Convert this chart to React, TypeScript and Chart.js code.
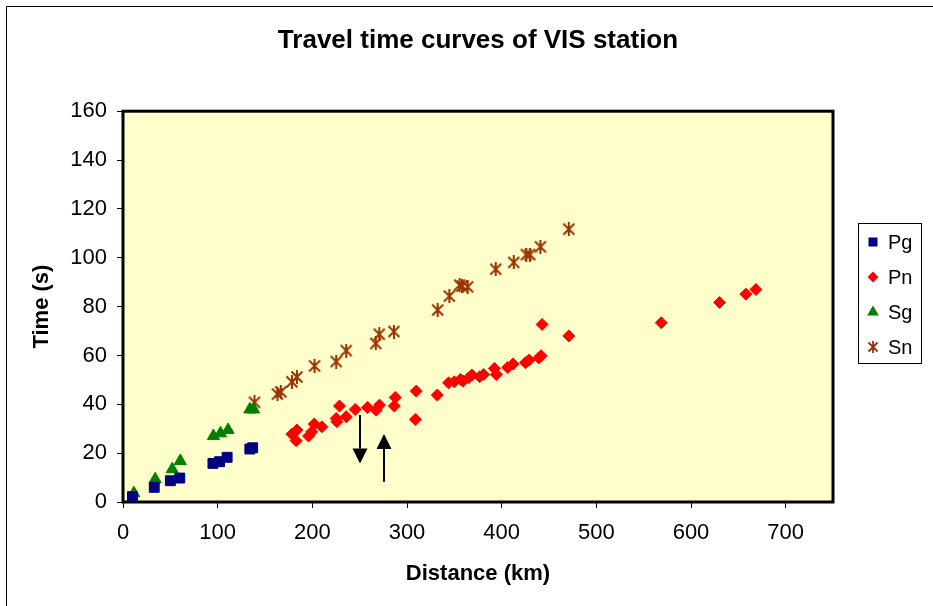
import { useEffect, useRef } from 'react';
import { Chart, registerables } from 'chart.js';

Chart.register(...registerables);

const FONT = "'Liberation Sans', Arial, Helvetica, sans-serif";

const chartTitle = 'Travel time curves of VIS station';
const xAxisTitle = 'Distance (km)';
const yAxisTitle = 'Time (s)';
const xTickValues = [0, 100, 200, 300, 400, 500, 600, 700];
const xRange = [0, 750];
const yRange = [0, 160];
const yStep = 20;

const seriesNames = ['Pg', 'Pn', 'Sg', 'Sn'];
const seriesColors = ['#000080', '#FF0000', '#008000', '#993300'];

const pgDistance = [10, 33, 50, 60, 95, 102, 110, 134, 137];
const pgTime = [2.2, 6, 8.7, 9.8, 15.8, 16.5, 18.3, 21.7, 22.2];

const pnDistance = [178.4, 183.7, 182.9, 196, 199.5, 202, 210.1, 228.7, 225.2, 226, 235.8, 245.3, 258.3, 267.5, 271, 287.6, 286.6, 309.8, 308.8, 332, 344, 350, 356.4, 359.2, 365.2, 368.7, 376.8, 381, 392.3, 394.4, 406.4, 412.1, 425.1, 429, 439.2, 441.7, 442.7, 470.9, 568.6, 630.2, 658, 668.6];
const pnTime = [27.8, 29.5, 25.1, 27, 28.8, 31.9, 30.8, 39.3, 34.2, 32.9, 34.9, 37.9, 38.7, 37.6, 39.7, 42.8, 39.3, 45.4, 33.8, 43.8, 48.8, 49.2, 50.2, 49.5, 50.9, 52, 51.3, 52.2, 54.7, 52.2, 55.1, 56.5, 57, 58.1, 59, 59.9, 72.7, 68, 73.4, 81.7, 85.1, 87];

const sgDistance = [11.5, 34, 52, 60.5, 95.5, 103, 111, 134, 138];
const sgTime = [3.6, 9.3, 13.4, 16.8, 27, 28.1, 29.5, 37.9, 37.9];

const snDistance = [138.9, 163.2, 166.7, 178.4, 183.7, 202.3, 225.2, 235.8, 267, 270.7, 286.2, 332.4, 344.7, 355.6, 358.1, 364.1, 393.7, 412.7, 426.1, 429.7, 440.9, 470.9];
const snTime = [40.8, 44.2, 45.1, 49.2, 51.2, 55.7, 57.5, 62, 64.9, 68.7, 69.8, 78.6, 84.3, 88.8, 88.4, 88.1, 95.3, 98.1, 101.3, 101.3, 104.5, 111.7];

// annotation arrows (data units): x position, start time, end (tip) time
const arrowDistance = [250, 275.2];
const arrowFromTime = [35.6, 8.3];
const arrowToTime = [15.8, 27.8];

function pairs(xs: number[], ys: number[]) {
  return xs.map((x, i) => ({ x, y: ys[i] }));
}

function makeAsterisk(color: string, size: number, lw: number) {
  const c = document.createElement('canvas');
  c.width = size;
  c.height = size;
  const g = c.getContext('2d')!;
  g.strokeStyle = color;
  g.lineWidth = lw;
  g.lineCap = 'butt';
  const s = size;
  const m = s / 2;
  const p = 1.5;
  g.beginPath();
  g.moveTo(p, p);
  g.lineTo(s - p, s - p);
  g.moveTo(s - p, p);
  g.lineTo(p, s - p);
  g.moveTo(m, 0);
  g.lineTo(m, s);
  g.stroke();
  return c;
}

function drawMarker(ctx: CanvasRenderingContext2D, kind: number, x: number, y: number, color: string, star: HTMLCanvasElement) {
  ctx.save();
  ctx.fillStyle = color;
  ctx.beginPath();
  if (kind === 0) {
    const h = 4.5;
    ctx.rect(x - h, y - h, 2 * h, 2 * h);
    ctx.fill();
  } else if (kind === 1) {
    const r = 5.5;
    ctx.moveTo(x - r, y);
    ctx.lineTo(x, y - r);
    ctx.lineTo(x + r, y);
    ctx.lineTo(x, y + r);
    ctx.closePath();
    ctx.fill();
  } else if (kind === 2) {
    const r = 6.5;
    ctx.moveTo(x, y - r);
    ctx.lineTo(x + r * 0.9, y + r * 0.55);
    ctx.lineTo(x - r * 0.9, y + r * 0.55);
    ctx.closePath();
    ctx.fill();
  } else {
    ctx.drawImage(star, x - star.width / 2, y - star.height / 2);
  }
  ctx.restore();
}

export default function App() {
  const ref = useRef<HTMLCanvasElement>(null);

  useEffect(() => {
    const canvas = ref.current;
    if (!canvas) return;
    const star = makeAsterisk(seriesColors[3], 14, 2);
    const legendStar = makeAsterisk(seriesColors[3], 12, 1.8);

    const decor = {
      id: 'decor',
      beforeDraw(chart: any) {
        const { ctx, chartArea: a, width, height } = chart;
        ctx.save();
        ctx.fillStyle = '#FFFFFF';
        ctx.fillRect(0, 0, width, height);
        ctx.fillStyle = '#FFFFCC';
        ctx.fillRect(a.left, a.top, a.right - a.left, a.bottom - a.top);
        // outer frame
        ctx.strokeStyle = '#000';
        ctx.lineWidth = 1;
        ctx.beginPath();
        ctx.moveTo(6.5, height + 5);
        ctx.lineTo(6.5, 6.5);
        ctx.lineTo(width + 5, 6.5);
        ctx.stroke();
        ctx.restore();
      },
      beforeDatasetsDraw(chart: any) {
        const { ctx, chartArea: a } = chart;
        ctx.save();
        ctx.strokeStyle = '#000';
        ctx.lineWidth = 3;
        ctx.strokeRect(a.left, a.top, a.right - a.left, a.bottom - a.top);
        ctx.restore();
      },
      afterDatasetsDraw(chart: any) {
        const { ctx } = chart;
        const xs = chart.scales.x;
        const ys = chart.scales.y;
        ctx.save();
        ctx.strokeStyle = '#000';
        ctx.fillStyle = '#000';
        ctx.lineWidth = 2;
        arrowDistance.forEach((d, i) => {
          const x = Math.round(xs.getPixelForValue(d));
          const y0 = ys.getPixelForValue(arrowFromTime[i]);
          const y1 = ys.getPixelForValue(arrowToTime[i]);
          const dir = y1 > y0 ? 1 : -1;
          const headLen = 15;
          const headHalf = 7.5;
          ctx.beginPath();
          ctx.moveTo(x, y0);
          ctx.lineTo(x, y1 - dir * headLen);
          ctx.stroke();
          ctx.beginPath();
          ctx.moveTo(x, y1);
          ctx.lineTo(x - headHalf, y1 - dir * headLen);
          ctx.lineTo(x + headHalf, y1 - dir * headLen);
          ctx.closePath();
          ctx.fill();
        });
        ctx.restore();
      },
      afterDraw(chart: any) {
        const { ctx, chartArea: a } = chart;
        const left = a.right + 25;
        const top = 223;
        const w = 63;
        const h = 140;
        ctx.save();
        ctx.fillStyle = '#FFFFFF';
        ctx.fillRect(left, top, w, h);
        ctx.strokeStyle = '#000';
        ctx.lineWidth = 1;
        ctx.strokeRect(left + 0.5, top + 0.5, w, h);
        ctx.font = `20px ${FONT}`;
        ctx.textBaseline = 'middle';
        ctx.textAlign = 'left';
        seriesNames.forEach((name, i) => {
          const y = top + 19 + i * 35;
          drawMarker(ctx, i, left + 15, y, seriesColors[i], legendStar);
          ctx.fillStyle = '#000';
          ctx.fillText(name, left + 30, y + 1);
        });
        ctx.restore();
      },
    };

    const chart = new Chart(canvas, {
      type: 'scatter',
      data: {
        datasets: [
          {
            label: seriesNames[0],
            data: pairs(pgDistance, pgTime),
            pointStyle: 'rect',
            pointRadius: 7,
            backgroundColor: seriesColors[0],
            borderColor: seriesColors[0],
            borderWidth: 1,
          },
          {
            label: seriesNames[1],
            data: pairs(pnDistance, pnTime),
            pointStyle: 'rectRot',
            pointRadius: 6,
            backgroundColor: seriesColors[1],
            borderColor: seriesColors[1],
            borderWidth: 1,
          },
          {
            label: seriesNames[2],
            data: pairs(sgDistance, sgTime),
            pointStyle: 'triangle',
            pointRadius: 7,
            backgroundColor: seriesColors[2],
            borderColor: seriesColors[2],
            borderWidth: 1,
          },
          {
            label: seriesNames[3],
            data: pairs(snDistance, snTime),
            pointStyle: star as any,
            pointRadius: 7,
            backgroundColor: seriesColors[3],
            borderColor: seriesColors[3],
          },
        ],
      },
      options: {
        animation: false,
        responsive: false,
        devicePixelRatio: 1,
        layout: { padding: { left: 0, right: 100, top: 0, bottom: 0 } },
        plugins: {
          legend: { display: false },
          tooltip: { enabled: false },
          title: {
            display: true,
            text: chartTitle,
            fullSize: false,
            color: '#000',
            font: { family: FONT, size: 26, weight: 'bold' },
            padding: { top: 25, bottom: 55 },
          },
        },
        scales: {
          x: {
            type: 'linear',
            min: xRange[0],
            max: xRange[1],
            afterBuildTicks: (s: any) => {
              s.ticks = xTickValues.map((v) => ({ value: v }));
            },
            afterFit: (s: any) => {
              s.height = 104;
            },
            border: { display: false },
            grid: {
              drawOnChartArea: false,
              drawTicks: true,
              tickLength: 6,
              color: '#000',
              lineWidth: 1,
            },
            ticks: {
              color: '#000',
              font: { family: FONT, size: 22 },
              padding: 12,
              maxRotation: 0,
            },
            title: {
              display: true,
              text: xAxisTitle,
              color: '#000',
              font: { family: FONT, size: 22, weight: 'bold' },
              padding: { top: 0, bottom: 19 },
            },
          },
          y: {
            type: 'linear',
            min: yRange[0],
            max: yRange[1],
            afterFit: (s: any) => {
              s.width = 123;
            },
            border: { display: false },
            grid: {
              drawOnChartArea: false,
              drawTicks: true,
              tickLength: 6,
              color: '#000',
              lineWidth: 1,
            },
            ticks: {
              stepSize: yStep,
              color: '#000',
              font: { family: FONT, size: 22 },
              padding: 10,
            },
            title: {
              display: true,
              text: yAxisTitle,
              color: '#000',
              font: { family: FONT, size: 22, weight: 'bold' },
              padding: { top: 29, bottom: 0 },
            },
          },
        },
      },
      plugins: [decor],
    } as any);

    return () => chart.destroy();
  }, []);

  return (
    <div style={{ position: 'absolute', left: 0, top: 0, width: 933, height: 606 }}>
      <canvas ref={ref} width={933} height={606} style={{ display: 'block', width: 933, height: 606 }} />
    </div>
  );
}
